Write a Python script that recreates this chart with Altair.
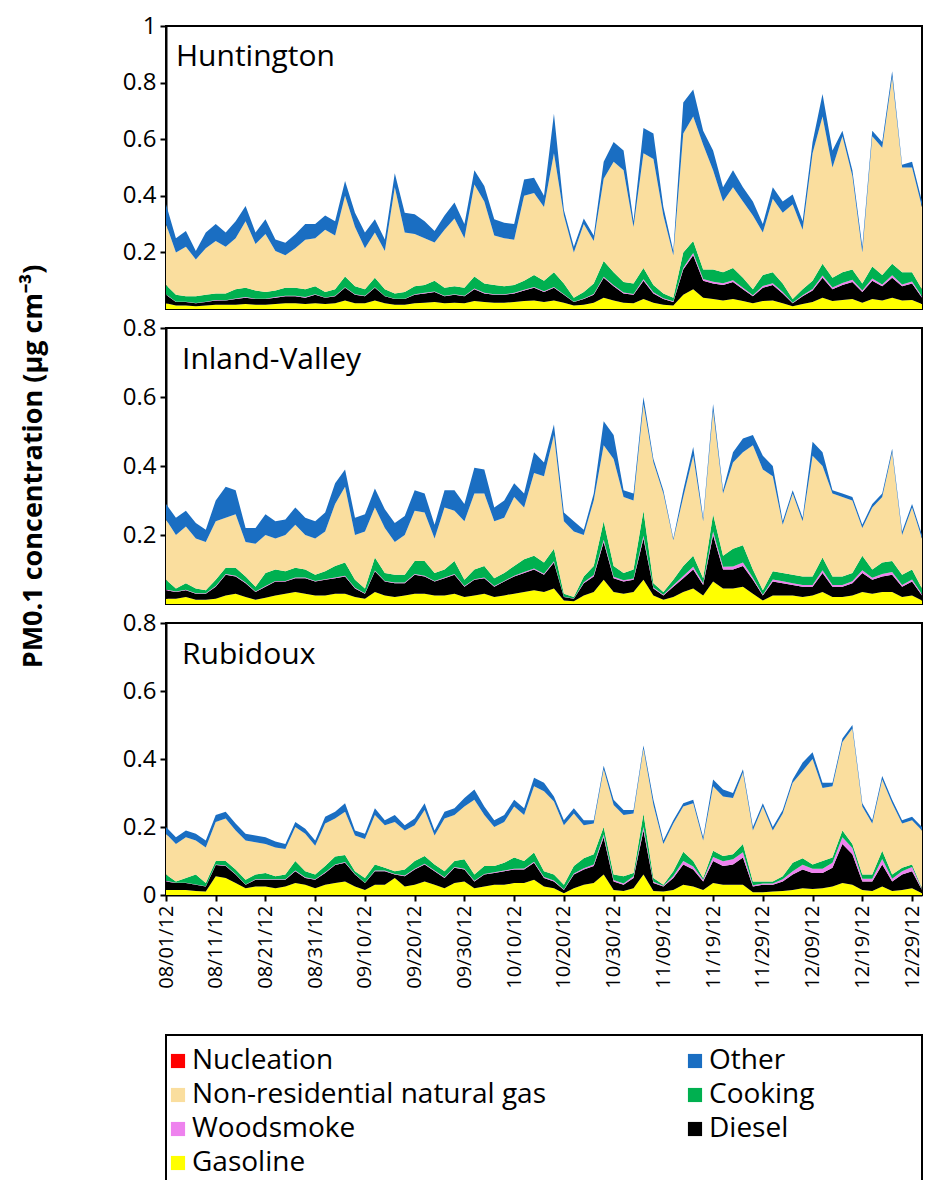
import altair as alt
import numpy as np
import pandas as pd

FONT = "Open Sans"

# Samples every second day, 1 Aug - 31 Dec 2012 (77 days)
dates = pd.date_range("2012-08-01", "2012-12-31", freq="2D")

# Stack order, bottom to top
SERIES = ["Nucleation", "Gasoline", "Diesel", "Woodsmoke", "Cooking",
          "Non-residential natural gas", "Other"]
# Legend entries fill the first column, then the second
LEGEND_ORDER = ["Nucleation", "Non-residential natural gas", "Woodsmoke", "Gasoline",
                "Other", "Cooking", "Diesel"]
COLORS = {
    "Nucleation": "#FF0000",
    "Other": "#1A6EC2",
    "Non-residential natural gas": "#FADE9E",
    "Cooking": "#00B050",
    "Woodsmoke": "#EE82EE",
    "Diesel": "#000000",
    "Gasoline": "#FFFF00",
}

TICK_DATES = ["08/01", "08/11", "08/21", "08/31", "09/10", "09/20", "09/30", "10/10",
              "10/20", "10/30", "11/09", "11/19", "11/29", "12/09", "12/19", "12/29"]

# ---- Huntington: upper edge of each layer (µg cm-3) ----
HUNT_TOTAL = [0.37, 0.25, 0.276, 0.205, 0.27, 0.30, 0.27, 0.31, 0.364, 0.27,
              0.317, 0.246, 0.234, 0.264, 0.30, 0.30, 0.33, 0.31, 0.452, 0.34,
              0.27, 0.317, 0.246, 0.48, 0.34, 0.335, 0.31, 0.276, 0.33, 0.376,
              0.30, 0.49, 0.435, 0.317, 0.305, 0.30, 0.458, 0.464, 0.40, 0.69,
              0.35, 0.22, 0.32, 0.26, 0.52, 0.59, 0.56, 0.31, 0.64, 0.62,
              0.36, 0.205, 0.73, 0.776, 0.63, 0.56, 0.43, 0.49, 0.43, 0.38,
              0.30, 0.43, 0.38, 0.405, 0.31, 0.59, 0.76, 0.56, 0.63, 0.49,
              0.22, 0.63, 0.59, 0.84, 0.51, 0.52, 0.38]
HUNT_NGAS = [0.30, 0.20, 0.22, 0.175, 0.215, 0.24, 0.22, 0.25, 0.31, 0.23,
             0.265, 0.205, 0.19, 0.215, 0.245, 0.25, 0.28, 0.26, 0.40, 0.29,
             0.215, 0.27, 0.205, 0.43, 0.27, 0.265, 0.25, 0.235, 0.28, 0.32,
             0.25, 0.44, 0.38, 0.26, 0.25, 0.245, 0.40, 0.41, 0.36, 0.55,
             0.33, 0.20, 0.30, 0.24, 0.46, 0.52, 0.49, 0.29, 0.55, 0.53,
             0.33, 0.19, 0.62, 0.68, 0.58, 0.49, 0.38, 0.43, 0.38, 0.33,
             0.27, 0.39, 0.34, 0.37, 0.28, 0.55, 0.68, 0.50, 0.61, 0.47,
             0.20, 0.61, 0.57, 0.82, 0.50, 0.50, 0.36]
HUNT_COOK = [0.085, 0.05, 0.045, 0.045, 0.05, 0.055, 0.055, 0.07, 0.075, 0.065,
             0.06, 0.065, 0.075, 0.075, 0.07, 0.08, 0.06, 0.07, 0.115, 0.08,
             0.07, 0.11, 0.07, 0.055, 0.06, 0.08, 0.085, 0.10, 0.075, 0.08,
             0.075, 0.115, 0.09, 0.085, 0.08, 0.085, 0.10, 0.12, 0.10, 0.13,
             0.09, 0.04, 0.06, 0.09, 0.17, 0.13, 0.095, 0.09, 0.145, 0.085,
             0.055, 0.04, 0.20, 0.24, 0.14, 0.14, 0.13, 0.145, 0.11, 0.07,
             0.12, 0.13, 0.09, 0.035, 0.07, 0.10, 0.16, 0.11, 0.13, 0.14,
             0.09, 0.15, 0.12, 0.16, 0.13, 0.13, 0.07]
HUNT_DIESEL = [0.05, 0.025, 0.025, 0.02, 0.025, 0.03, 0.03, 0.035, 0.04, 0.035,
               0.035, 0.04, 0.045, 0.045, 0.04, 0.05, 0.04, 0.045, 0.075, 0.05,
               0.045, 0.075, 0.045, 0.035, 0.035, 0.05, 0.055, 0.06, 0.045, 0.05,
               0.045, 0.07, 0.055, 0.05, 0.05, 0.055, 0.065, 0.075, 0.06, 0.075,
               0.05, 0.025, 0.035, 0.05, 0.11, 0.08, 0.055, 0.05, 0.10, 0.055,
               0.035, 0.025, 0.14, 0.19, 0.10, 0.09, 0.085, 0.095, 0.07, 0.045,
               0.075, 0.085, 0.055, 0.02, 0.045, 0.065, 0.11, 0.07, 0.085, 0.095,
               0.06, 0.10, 0.08, 0.11, 0.08, 0.09, 0.04]
HUNT_GAS = [0.02, 0.012, 0.012, 0.01, 0.012, 0.015, 0.015, 0.015, 0.018, 0.015,
            0.015, 0.018, 0.02, 0.02, 0.018, 0.02, 0.018, 0.02, 0.03, 0.02,
            0.02, 0.03, 0.02, 0.015, 0.015, 0.02, 0.022, 0.025, 0.02, 0.022,
            0.02, 0.028, 0.025, 0.022, 0.022, 0.025, 0.028, 0.03, 0.025, 0.03,
            0.022, 0.012, 0.015, 0.022, 0.04, 0.03, 0.022, 0.02, 0.035, 0.022,
            0.015, 0.012, 0.05, 0.07, 0.04, 0.035, 0.03, 0.035, 0.028, 0.02,
            0.028, 0.03, 0.02, 0.01, 0.018, 0.025, 0.04, 0.028, 0.032, 0.035,
            0.022, 0.035, 0.03, 0.04, 0.03, 0.032, 0.018]
HUNT_WOOD = [0.002, 0.001, 0.001, 0.001, 0.001, 0.002, 0.001, 0.002, 0.002, 0.001,
             0.001, 0.002, 0.002, 0.002, 0.002, 0.002, 0.001, 0.002, 0.002, 0.002,
             0.002, 0.002, 0.001, 0.001, 0.001, 0.002, 0.002, 0.002, 0.002, 0.002,
             0.002, 0.002, 0.002, 0.002, 0.002, 0.002, 0.003, 0.003, 0.003, 0.003,
             0.002, 0.001, 0.002, 0.003, 0.004, 0.004, 0.003, 0.003, 0.005, 0.004,
             0.003, 0.002, 0.006, 0.008, 0.006, 0.006, 0.006, 0.007, 0.005, 0.004,
             0.006, 0.006, 0.005, 0.002, 0.004, 0.006, 0.008, 0.006, 0.007, 0.008,
             0.005, 0.008, 0.007, 0.009, 0.007, 0.007, 0.004]

# ---- Inland-Valley ----
INLAND_TOTAL = [0.29, 0.25, 0.27, 0.235, 0.215, 0.30, 0.34, 0.33, 0.22, 0.22,
                0.26, 0.24, 0.245, 0.28, 0.25, 0.24, 0.265, 0.35, 0.39, 0.25,
                0.26, 0.335, 0.275, 0.235, 0.255, 0.33, 0.32, 0.23, 0.33, 0.33,
                0.29, 0.395, 0.39, 0.28, 0.30, 0.35, 0.32, 0.44, 0.41, 0.52,
                0.265, 0.24, 0.215, 0.32, 0.53, 0.49, 0.33, 0.32, 0.60, 0.42,
                0.33, 0.19, 0.33, 0.455, 0.25, 0.58, 0.33, 0.44, 0.48, 0.49,
                0.43, 0.40, 0.24, 0.33, 0.25, 0.47, 0.44, 0.33, 0.32, 0.31,
                0.23, 0.29, 0.32, 0.45, 0.21, 0.29, 0.20]
INLAND_NGAS = [0.245, 0.20, 0.225, 0.19, 0.18, 0.24, 0.25, 0.26, 0.18, 0.175,
               0.20, 0.19, 0.20, 0.23, 0.20, 0.19, 0.21, 0.29, 0.34, 0.20,
               0.21, 0.28, 0.22, 0.18, 0.20, 0.27, 0.265, 0.19, 0.28, 0.27,
               0.24, 0.32, 0.32, 0.24, 0.25, 0.31, 0.28, 0.38, 0.37, 0.49,
               0.24, 0.21, 0.20, 0.30, 0.46, 0.42, 0.31, 0.30, 0.58, 0.41,
               0.32, 0.185, 0.31, 0.43, 0.24, 0.56, 0.32, 0.41, 0.44, 0.46,
               0.39, 0.37, 0.23, 0.32, 0.24, 0.43, 0.40, 0.32, 0.31, 0.30,
               0.22, 0.28, 0.31, 0.44, 0.20, 0.28, 0.19]
INLAND_COOK = [0.07, 0.045, 0.06, 0.045, 0.04, 0.07, 0.105, 0.105, 0.08, 0.05,
               0.09, 0.10, 0.095, 0.105, 0.10, 0.085, 0.095, 0.11, 0.12, 0.07,
               0.045, 0.135, 0.09, 0.085, 0.085, 0.125, 0.125, 0.09, 0.10, 0.125,
               0.07, 0.10, 0.11, 0.075, 0.09, 0.11, 0.13, 0.14, 0.12, 0.16,
               0.03, 0.02, 0.08, 0.11, 0.24, 0.11, 0.09, 0.10, 0.27, 0.06,
               0.035, 0.07, 0.11, 0.14, 0.075, 0.26, 0.14, 0.16, 0.17, 0.10,
               0.04, 0.095, 0.09, 0.085, 0.08, 0.08, 0.135, 0.08, 0.08, 0.09,
               0.14, 0.10, 0.12, 0.125, 0.085, 0.10, 0.045]
INLAND_DIESEL = [0.04, 0.035, 0.04, 0.03, 0.03, 0.05, 0.085, 0.08, 0.06, 0.035,
                 0.05, 0.065, 0.065, 0.075, 0.075, 0.065, 0.07, 0.075, 0.08, 0.045,
                 0.03, 0.095, 0.065, 0.06, 0.06, 0.085, 0.08, 0.065, 0.075, 0.085,
                 0.05, 0.07, 0.075, 0.05, 0.065, 0.08, 0.09, 0.10, 0.085, 0.12,
                 0.02, 0.015, 0.06, 0.08, 0.18, 0.075, 0.065, 0.07, 0.19, 0.045,
                 0.025, 0.05, 0.075, 0.10, 0.055, 0.20, 0.10, 0.10, 0.11, 0.07,
                 0.025, 0.065, 0.06, 0.055, 0.05, 0.05, 0.09, 0.05, 0.05, 0.06,
                 0.09, 0.07, 0.08, 0.085, 0.05, 0.065, 0.025]
INLAND_GAS = [0.015, 0.015, 0.02, 0.012, 0.012, 0.015, 0.025, 0.03, 0.02, 0.012,
              0.018, 0.025, 0.03, 0.035, 0.03, 0.025, 0.025, 0.03, 0.03, 0.02,
              0.015, 0.035, 0.025, 0.02, 0.025, 0.03, 0.03, 0.025, 0.025, 0.03,
              0.02, 0.025, 0.03, 0.02, 0.025, 0.03, 0.035, 0.04, 0.035, 0.045,
              0.01, 0.008, 0.025, 0.035, 0.07, 0.035, 0.03, 0.035, 0.07, 0.025,
              0.012, 0.02, 0.035, 0.045, 0.025, 0.065, 0.045, 0.045, 0.05, 0.03,
              0.01, 0.025, 0.025, 0.025, 0.02, 0.025, 0.035, 0.02, 0.02, 0.025,
              0.035, 0.03, 0.035, 0.035, 0.02, 0.025, 0.01]
INLAND_WOOD = [0.002, 0.001, 0.001, 0.001, 0.001, 0.002, 0.002, 0.002, 0.002, 0.001,
               0.002, 0.002, 0.002, 0.002, 0.002, 0.002, 0.002, 0.002, 0.002, 0.002,
               0.001, 0.002, 0.002, 0.002, 0.002, 0.002, 0.002, 0.002, 0.002, 0.002,
               0.002, 0.002, 0.002, 0.002, 0.002, 0.002, 0.003, 0.003, 0.003, 0.004,
               0.001, 0.001, 0.003, 0.004, 0.006, 0.004, 0.004, 0.004, 0.008, 0.003,
               0.002, 0.004, 0.006, 0.008, 0.005, 0.010, 0.008, 0.009, 0.010, 0.006,
               0.002, 0.006, 0.006, 0.005, 0.005, 0.005, 0.008, 0.005, 0.005, 0.006,
               0.008, 0.006, 0.007, 0.008, 0.005, 0.006, 0.003]

# ---- Rubidoux ----
RUBI_TOTAL = [0.20, 0.17, 0.19, 0.18, 0.16, 0.235, 0.245, 0.21, 0.18, 0.175,
              0.17, 0.157, 0.15, 0.215, 0.195, 0.16, 0.23, 0.245, 0.27, 0.19,
              0.18, 0.255, 0.22, 0.235, 0.205, 0.225, 0.27, 0.19, 0.245, 0.255,
              0.285, 0.31, 0.26, 0.22, 0.235, 0.28, 0.255, 0.345, 0.33, 0.29,
              0.22, 0.255, 0.22, 0.22, 0.38, 0.28, 0.25, 0.25, 0.44, 0.28,
              0.16, 0.22, 0.27, 0.28, 0.17, 0.34, 0.31, 0.30, 0.37, 0.20,
              0.27, 0.20, 0.25, 0.34, 0.39, 0.42, 0.33, 0.33, 0.46, 0.50,
              0.27, 0.22, 0.35, 0.28, 0.22, 0.23, 0.20]
RUBI_NGAS = [0.18, 0.15, 0.17, 0.16, 0.14, 0.215, 0.225, 0.19, 0.16, 0.155,
             0.15, 0.14, 0.135, 0.20, 0.18, 0.145, 0.21, 0.225, 0.245, 0.175,
             0.165, 0.235, 0.205, 0.215, 0.19, 0.205, 0.25, 0.175, 0.225, 0.235,
             0.26, 0.28, 0.235, 0.20, 0.215, 0.26, 0.235, 0.32, 0.305, 0.275,
             0.205, 0.24, 0.205, 0.21, 0.37, 0.265, 0.235, 0.24, 0.43, 0.265,
             0.15, 0.21, 0.26, 0.27, 0.16, 0.32, 0.29, 0.285, 0.36, 0.19,
             0.26, 0.19, 0.24, 0.33, 0.365, 0.40, 0.315, 0.32, 0.45, 0.49,
             0.26, 0.21, 0.34, 0.27, 0.21, 0.22, 0.19]
RUBI_COOK = [0.06, 0.04, 0.05, 0.06, 0.035, 0.10, 0.10, 0.075, 0.045, 0.06,
             0.065, 0.055, 0.06, 0.10, 0.07, 0.06, 0.085, 0.113, 0.118, 0.07,
             0.05, 0.09, 0.08, 0.07, 0.075, 0.10, 0.115, 0.09, 0.07, 0.10,
             0.105, 0.06, 0.085, 0.085, 0.095, 0.11, 0.10, 0.125, 0.07, 0.06,
             0.03, 0.085, 0.108, 0.12, 0.20, 0.06, 0.055, 0.065, 0.24, 0.05,
             0.03, 0.07, 0.127, 0.10, 0.05, 0.13, 0.115, 0.12, 0.15, 0.04,
             0.04, 0.04, 0.055, 0.095, 0.108, 0.09, 0.10, 0.11, 0.19, 0.15,
             0.06, 0.06, 0.13, 0.06, 0.08, 0.09, 0.02]
RUBI_DIESEL = [0.04, 0.035, 0.035, 0.03, 0.025, 0.088, 0.085, 0.06, 0.03, 0.045,
               0.045, 0.045, 0.045, 0.07, 0.05, 0.045, 0.065, 0.088, 0.095, 0.06,
               0.035, 0.07, 0.07, 0.06, 0.055, 0.075, 0.09, 0.07, 0.05, 0.08,
               0.075, 0.04, 0.06, 0.065, 0.07, 0.075, 0.075, 0.095, 0.05, 0.04,
               0.015, 0.06, 0.075, 0.085, 0.17, 0.04, 0.03, 0.05, 0.19, 0.035,
               0.025, 0.05, 0.09, 0.075, 0.04, 0.10, 0.085, 0.09, 0.11, 0.025,
               0.03, 0.03, 0.04, 0.06, 0.075, 0.065, 0.065, 0.08, 0.15, 0.12,
               0.04, 0.04, 0.09, 0.04, 0.06, 0.07, 0.015]
RUBI_GAS = [0.015, 0.015, 0.015, 0.012, 0.01, 0.055, 0.05, 0.035, 0.02, 0.025,
            0.025, 0.02, 0.025, 0.035, 0.03, 0.02, 0.03, 0.035, 0.04, 0.025,
            0.015, 0.03, 0.03, 0.05, 0.025, 0.03, 0.04, 0.03, 0.02, 0.035,
            0.04, 0.02, 0.025, 0.03, 0.03, 0.035, 0.035, 0.045, 0.025, 0.02,
            0.005, 0.02, 0.03, 0.035, 0.06, 0.015, 0.012, 0.02, 0.06, 0.012,
            0.01, 0.015, 0.03, 0.025, 0.015, 0.035, 0.03, 0.03, 0.03, 0.008,
            0.008, 0.01, 0.012, 0.015, 0.02, 0.018, 0.02, 0.025, 0.035, 0.03,
            0.015, 0.012, 0.025, 0.012, 0.015, 0.02, 0.005]
RUBI_WOOD = [0.002, 0.001, 0.001, 0.001, 0.001, 0.002, 0.002, 0.002, 0.001, 0.001,
             0.001, 0.001, 0.001, 0.002, 0.002, 0.001, 0.002, 0.002, 0.002, 0.002,
             0.001, 0.002, 0.002, 0.002, 0.002, 0.002, 0.002, 0.002, 0.002, 0.002,
             0.002, 0.002, 0.002, 0.002, 0.002, 0.002, 0.003, 0.003, 0.003, 0.003,
             0.001, 0.003, 0.004, 0.005, 0.008, 0.004, 0.004, 0.005, 0.010, 0.004,
             0.002, 0.006, 0.010, 0.009, 0.005, 0.012, 0.014, 0.015, 0.016, 0.004,
             0.004, 0.004, 0.006, 0.010, 0.014, 0.012, 0.012, 0.015, 0.020, 0.018,
             0.008, 0.008, 0.016, 0.008, 0.010, 0.012, 0.002]

HUNT_YTICKS = [0.2, 0.4, 0.6, 0.8, 1.0]
INLAND_YTICKS = [0.2, 0.4, 0.6, 0.8]
RUBI_YTICKS = [0.0, 0.2, 0.4, 0.6, 0.8]

PANEL_W = 756
KEY_H = 170


def site_frame(gas_top, diesel_top, wood, cook_top, ngas_top, total):
    """Turn the layer edges into per-source contributions in long form."""
    g = np.asarray(gas_top)
    d = np.asarray(diesel_top)
    w = np.asarray(wood)
    c = np.asarray(cook_top)
    n = np.asarray(ngas_top)
    t = np.asarray(total)
    parts = {
        "Nucleation": np.zeros(len(g)),
        "Gasoline": g,
        "Diesel": np.clip(d - g, 0, None),
        "Woodsmoke": w,
        "Cooking": np.clip(c - d - w, 0, None),
        "Non-residential natural gas": np.clip(n - c, 0, None),
        "Other": np.clip(t - n, 0, None),
    }
    rows = []
    for rank, name in enumerate(SERIES):
        for dt, v in zip(dates, parts[name]):
            rows.append({"date": dt, "source": name, "value": float(v), "rank": rank})
    return pd.DataFrame(rows)


color_scale = alt.Scale(domain=LEGEND_ORDER, range=[COLORS[s] for s in LEGEND_ORDER])
x_domain = [alt.DateTime(year=2012, month=8, date=1), alt.DateTime(year=2012, month=12, date=31)]
x_ticks = [alt.DateTime(year=2012, month=int(s[:2]), date=int(s[3:])) for s in TICK_DATES]


def panel(df, site, ymax, yticks, height, label_x, label_y, show_x=False, y_title=None):
    if show_x:
        x_axis = alt.Axis(values=x_ticks, format="%m/%d/%y", labelAngle=270,
                          labelFontSize=20, labelPadding=4, title=None)
    else:
        x_axis = None
    y_axis_kw = dict(values=yticks, labelExpr="format(datum.value, '~g')")
    if y_title:
        y_axis_kw.update(title=y_title, titleFontSize=27, titleFontWeight="bold",
                         titlePadding=75)
    else:
        y_axis_kw.update(title=None)
    area = alt.Chart(df).mark_area(interpolate="linear").encode(
        x=alt.X("date:T", scale=alt.Scale(domain=x_domain), axis=x_axis),
        y=alt.Y("value:Q", stack="zero", scale=alt.Scale(domain=[0, ymax], nice=False),
                axis=alt.Axis(**y_axis_kw)),
        color=alt.Color("source:N", scale=color_scale, legend=None),
        order=alt.Order("rank:Q", sort="ascending"),
    )
    name = alt.Chart(pd.DataFrame({"site": [site]})).mark_text(
        align="left", baseline="alphabetic", fontSize=30, font=FONT, color="black"
    ).encode(x=alt.value(label_x), y=alt.value(label_y), text="site:N")
    return alt.layer(area, name).properties(width=PANEL_W, height=height)


hunt = panel(site_frame(HUNT_GAS, HUNT_DIESEL, HUNT_WOOD, HUNT_COOK, HUNT_NGAS, HUNT_TOTAL),
             "Huntington", 1.0, HUNT_YTICKS, 283, 10, 40)
inland = panel(site_frame(INLAND_GAS, INLAND_DIESEL, INLAND_WOOD, INLAND_COOK, INLAND_NGAS, INLAND_TOTAL),
               "Inland-Valley", 0.8, INLAND_YTICKS, 276, 16, 41,
               y_title="PM0.1 concentration (µg cm⁻³)")
rubi = panel(site_frame(RUBI_GAS, RUBI_DIESEL, RUBI_WOOD, RUBI_COOK, RUBI_NGAS, RUBI_TOTAL),
             "Rubidoux", 0.8, RUBI_YTICKS, 272, 16, 41, show_x=True)

# Legend panel: framed box holding the colour key
key_entries = alt.Chart(pd.DataFrame({"source": LEGEND_ORDER})).mark_square(size=0, opacity=1).encode(
    color=alt.Color(
        "source:N", scale=color_scale,
        legend=alt.Legend(
            title=None, orient="none", legendX=-2, legendY=12, columns=2,
            columnPadding=135, rowPadding=6, symbolType="square", symbolSize=200,
            symbolStrokeWidth=0, symbolOpacity=1, labelFontSize=28, labelFont=FONT,
            labelLimit=0, labelOffset=0, padding=0, labelColor="black",
        ),
    )
)
key_frame = alt.Chart(pd.DataFrame({"box": [0]})).mark_rect(
    fill="transparent", stroke="black", strokeWidth=2
).encode(x=alt.value(0), x2=alt.value(PANEL_W), y=alt.value(0), y2=alt.value(KEY_H))
key = alt.layer(key_frame, key_entries).properties(width=PANEL_W, height=KEY_H)

# Panels are spaced by their plot areas only, so the long axis title does not push them apart
stack = alt.vconcat(hunt, inland, rubi, spacing=19, bounds="flush")
chart = alt.vconcat(stack, key, spacing=43).resolve_legend(color="independent").properties(
    padding={"left": 18, "top": 13, "right": 0, "bottom": 0}
).configure(font=FONT).configure_view(
    stroke="black", strokeWidth=2
).configure_axis(
    domainColor="black", domainWidth=2, tickColor="black", tickWidth=2, tickSize=6,
    labelColor="black", labelFontSize=24, labelFont=FONT, grid=False, labelPadding=4,
    titleColor="black", titleFont=FONT,
)

chart.save("out.html", embed_options={"renderer": "svg", "actions": False})
